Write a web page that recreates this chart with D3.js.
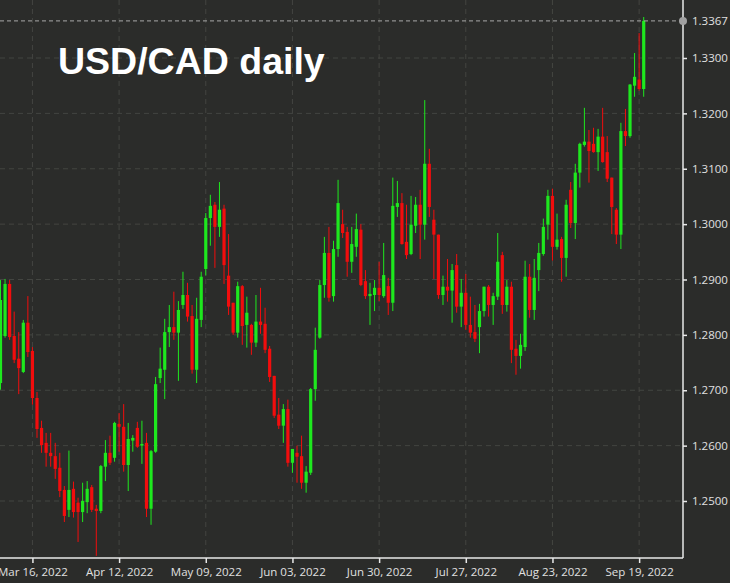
<!DOCTYPE html>
<html><head><meta charset="utf-8">
<script src="https://cdn.jsdelivr.net/npm/d3@7"></script>
<style>body{margin:0;background:#2b2c2a}svg{display:block}</style>
</head><body><svg id="c" width="730" height="583"></svg>
<script>
const openP=[1.2713,1.2798,1.2892,1.2798,1.2757,1.2733,1.2822,1.2771,1.2686,1.2632,1.2605,1.2587,1.2581,1.2560,1.2520,1.2484,1.2522,1.2497,1.2480,1.2498,1.2525,1.2486,1.2482,1.2562,1.2587,1.2578,1.2639,1.2634,1.2565,1.2609,1.2632,1.2600,1.2605,1.2486,1.2589,1.2722,1.2737,1.2805,1.2814,1.2804,1.2854,1.2872,1.2834,1.2737,1.2827,1.2919,1.3011,1.3035,1.2995,1.3028,1.2907,1.2858,1.2804,1.2888,1.2818,1.2818,1.2786,1.2824,1.2820,1.2775,1.2726,1.2656,1.2636,1.2666,1.2569,1.2587,1.2581,1.2533,1.2551,1.2702,1.2795,1.2890,1.2948,1.2870,1.2955,1.3000,1.2986,1.2932,1.2959,1.2990,1.2897,1.2870,1.2872,1.2885,1.2870,1.2888,1.2858,1.3031,1.3038,1.2968,1.2946,1.2997,1.3035,1.2999,1.3109,1.3008,1.2981,1.2872,1.2887,1.2880,1.2926,1.2851,1.2876,1.2818,1.2805,1.2814,1.2843,1.2887,1.2854,1.2869,1.2944,1.2854,1.2887,1.2775,1.2762,1.2778,1.2905,1.2845,1.2917,1.2946,1.2999,1.3051,1.2959,1.2973,1.2939,1.3062,1.3002,1.3093,1.3143,1.3149,1.3145,1.3130,1.3158,1.3130,1.3084,1.3026,1.2981,1.3168,1.3159,1.3250,1.3261,1.3244];
const highP=[1.2899,1.2901,1.2899,1.2842,1.2805,1.2827,1.2870,1.2778,1.2697,1.2645,1.2623,1.2623,1.2605,1.2587,1.2527,1.2591,1.2535,1.2506,1.2533,1.2536,1.2529,1.2493,1.2565,1.2610,1.2618,1.2643,1.2659,1.2675,1.2641,1.2619,1.2643,1.2645,1.2623,1.2592,1.2724,1.2777,1.2829,1.2854,1.2878,1.2861,1.2914,1.2894,1.2854,1.2867,1.2914,1.3020,1.3053,1.3040,1.3076,1.3035,1.2982,1.2858,1.2896,1.2890,1.2869,1.2820,1.2872,1.2885,1.2849,1.2780,1.2726,1.2686,1.2675,1.2683,1.2594,1.2600,1.2618,1.2563,1.2704,1.2813,1.2899,1.2977,1.2995,1.2970,1.3080,1.3026,1.2995,1.2995,1.3019,1.3000,1.2917,1.2894,1.2899,1.2932,1.2966,1.2903,1.3084,1.3078,1.3056,1.3035,1.3051,1.3049,1.3062,1.3224,1.3136,1.3026,1.2981,1.2907,1.2937,1.2928,1.2946,1.2901,1.2910,1.2869,1.2854,1.2856,1.2887,1.2890,1.2876,1.2984,1.2950,1.2899,1.2896,1.2791,1.2802,1.2934,1.2928,1.2937,1.2966,1.3010,1.3062,1.3064,1.3019,1.2977,1.3044,1.3076,1.3109,1.3147,1.3210,1.3170,1.3174,1.3172,1.3210,1.3159,1.3084,1.3029,1.3183,1.3208,1.3253,1.3309,1.3345,1.3374];
const lowP=[1.2701,1.2795,1.2791,1.2749,1.2693,1.2731,1.2760,1.2674,1.2614,1.2587,1.2562,1.2562,1.2540,1.2507,1.2462,1.2471,1.2470,1.2426,1.2462,1.2478,1.2480,1.2401,1.2478,1.2536,1.2565,1.2571,1.2589,1.2553,1.2518,1.2589,1.2596,1.2567,1.2471,1.2457,1.2587,1.2713,1.2684,1.2778,1.2791,1.2717,1.2847,1.2824,1.2730,1.2713,1.2814,1.2907,1.2961,1.2921,1.2977,1.2892,1.2836,1.2800,1.2795,1.2782,1.2777,1.2764,1.2778,1.2802,1.2767,1.2715,1.2650,1.2630,1.2605,1.2562,1.2551,1.2533,1.2522,1.2515,1.2547,1.2681,1.2793,1.2867,1.2860,1.2860,1.2941,1.2975,1.2905,1.2912,1.2941,1.2888,1.2865,1.2818,1.2843,1.2861,1.2867,1.2836,1.2843,1.3013,1.2963,1.2937,1.2944,1.2984,1.2937,1.2972,1.3013,1.2901,1.2865,1.2854,1.2860,1.2822,1.2840,1.2814,1.2809,1.2795,1.2787,1.2767,1.2833,1.2833,1.2818,1.2863,1.2838,1.2842,1.2749,1.2728,1.2739,1.2771,1.2831,1.2827,1.2879,1.2943,1.2972,1.2934,1.2954,1.2896,1.2905,1.2993,1.2973,1.3066,1.3140,1.3075,1.3129,1.3096,1.3111,1.3076,1.2982,1.2964,1.2955,1.3141,1.3156,1.3230,1.3241,1.3230];
const closeP=[1.2863,1.2892,1.2796,1.2755,1.2740,1.2822,1.2769,1.2686,1.2630,1.2601,1.2587,1.2581,1.2558,1.2518,1.2473,1.2520,1.2480,1.2480,1.2500,1.2522,1.2484,1.2482,1.2563,1.2587,1.2569,1.2641,1.2634,1.2565,1.2612,1.2614,1.2598,1.2603,1.2486,1.2590,1.2711,1.2739,1.2805,1.2814,1.2804,1.2845,1.2872,1.2833,1.2737,1.2829,1.2905,1.3011,1.3033,1.2995,1.3026,1.2926,1.2851,1.2804,1.2888,1.2816,1.2840,1.2786,1.2824,1.2818,1.2773,1.2724,1.2654,1.2636,1.2666,1.2569,1.2594,1.2580,1.2533,1.2553,1.2702,1.2773,1.2890,1.2948,1.2867,1.2955,1.3038,1.2984,1.2932,1.2964,1.2991,1.2890,1.2870,1.2874,1.2885,1.2872,1.2908,1.2858,1.3033,1.3038,1.2964,1.2944,1.2999,1.3035,1.2999,1.3109,1.3031,1.2981,1.2872,1.2887,1.2880,1.2917,1.2851,1.2876,1.2818,1.2804,1.2793,1.2843,1.2887,1.2854,1.2870,1.2932,1.2854,1.2887,1.2773,1.2762,1.2782,1.2905,1.2845,1.2903,1.2948,1.2995,1.3051,1.2959,1.2972,1.2939,1.3035,1.3002,1.3093,1.3145,1.3149,1.3132,1.3130,1.3158,1.3112,1.3082,1.3031,1.2981,1.3168,1.3159,1.3252,1.3266,1.3244,1.3367];
const yTicks=[1.25,1.26,1.27,1.28,1.29,1.30,1.31,1.32,1.33];
const xTickIdx=[7,26,45,64,83,102,121,140];
const xTickLabels=["Mar 16, 2022","Apr 12, 2022","May 09, 2022","Jun 03, 2022","Jun 30, 2022","Jul 27, 2022","Aug 23, 2022","Sep 19, 2022"];
const lastPrice=1.3367;
const title="USD/CAD daily";

const svg=d3.select("#c");
const W=730,H=583,axX=683,axY=558;
const x=d3.scaleLinear().domain([0,closeP.length-1]).range([0.5,643.7]);
const y=d3.scaleLinear().domain([1.25,1.33]).range([501,58]);
svg.append("rect").attr("width",W).attr("height",H).attr("fill","#2b2c2a");
const g=svg.append("g");
g.selectAll(".hg").data(yTicks).join("line").attr("x1",0).attr("x2",axX).attr("y1",d=>y(d)).attr("y2",d=>y(d)).attr("stroke","#434541").attr("stroke-dasharray","5,4");
g.selectAll(".vg").data(xTickIdx).join("line").attr("x1",d=>x(d)).attr("x2",d=>x(d)).attr("y1",0).attr("y2",axY).attr("stroke","#434541").attr("stroke-dasharray","5,4");
const data=closeP.map((c,i)=>({i,o:openP[i],h:highP[i],l:lowP[i],c}));
const col=d=>d.c>=d.o?"#1ee81e":"#f20d0d";
g.selectAll(".w").data(data).join("line").attr("x1",d=>x(d.i)).attr("x2",d=>x(d.i)).attr("y1",d=>y(d.h)).attr("y2",d=>y(d.l)).attr("stroke",col).attr("stroke-width",1);
g.selectAll(".b").data(data).join("rect").attr("x",d=>x(d.i)-1.6).attr("width",3.2)
 .attr("y",d=>y(Math.max(d.o,d.c))).attr("height",d=>Math.max(1.5,Math.abs(y(d.o)-y(d.c)))).attr("fill",col);
g.append("line").attr("x1",0).attr("x2",axX).attr("y1",y(lastPrice)).attr("y2",y(lastPrice)).attr("stroke","#a8a8a8").attr("stroke-dasharray","4,3");
const ya=d3.axisRight(y).tickValues(yTicks).tickFormat(d3.format(".4f")).tickSize(4).tickPadding(5);
const yg=svg.append("g").attr("transform",`translate(${axX},0)`).call(ya);
yg.select(".domain").attr("d",`M0,0V${axY}`);
const xa=d3.axisBottom(x).tickValues(xTickIdx).tickFormat((d,i)=>xTickLabels[i]).tickSize(5).tickPadding(5);
const xg=svg.append("g").attr("transform",`translate(0,${axY})`).call(xa);
xg.select(".domain").attr("d",`M0,0H${axX}`);
[yg,xg].forEach(a=>{a.selectAll("path,line").attr("stroke","#e8e8e8").attr("stroke-width",1.5);
 a.selectAll("text").attr("fill","#e0e0e0").attr("font-family","Open Sans, sans-serif").attr("font-size",11.5);});
svg.append("circle").attr("cx",axX).attr("cy",y(lastPrice)).attr("r",4).attr("fill","#a0a0a0");
svg.append("text").attr("x",axX+9).attr("y",y(lastPrice)+4).text(d3.format(".4f")(lastPrice)).attr("fill","#e0e0e0").attr("font-family","Open Sans, sans-serif").attr("font-size",11.5);
svg.append("text").attr("x",58).attr("y",74).text(title).attr("fill","#ffffff").attr("font-family","Liberation Sans, Arial, sans-serif").attr("font-weight","bold").attr("font-size",37.5);
</script></body></html>
